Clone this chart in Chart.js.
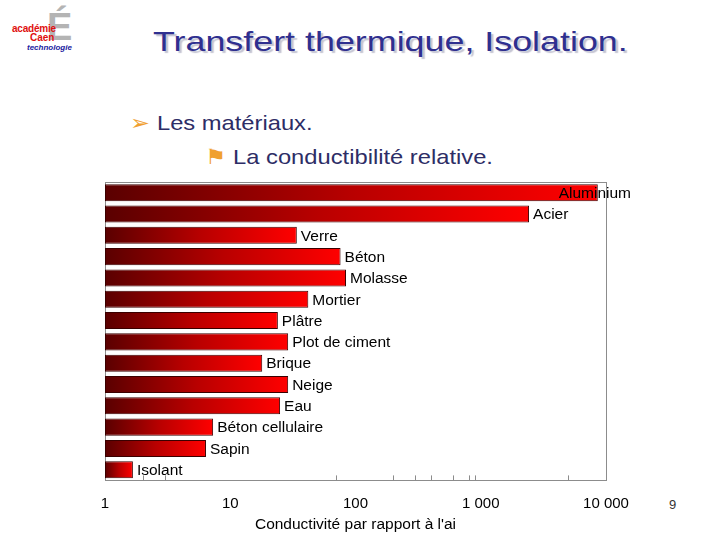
<!DOCTYPE html>
<html>
<head>
<meta charset="utf-8">
<script src="https://cdn.jsdelivr.net/npm/chart.js@4/dist/chart.umd.min.js"></script>
<style>
  html, body { margin:0; padding:0; background:#fff; }
  #slide { position:relative; width:720px; height:540px; overflow:hidden; font-family:"Liberation Sans", Arial, sans-serif; }
  #chart { position:absolute; left:0; top:0; }
  .txt { position:absolute; white-space:nowrap; transform-origin:0 0; }
  #title { left:153px; top:26px; font-size:28px; color:#2f2f8f; transform:scaleX(1.28); text-shadow:2px 2px 1px #c4c4d2; }
  #l1 { left:130px; top:111px; font-size:21px; color:#2d2d66; transform:scaleX(1.13); }
  #l2 { left:205px; top:145px; font-size:21px; color:#2d2d66; transform:scaleX(1.13); }
  .bul { color:#f0a030; }
  #page { left:669px; top:497px; font-size:13px; color:#333; }
  #logo1 { left:12px; top:23px; font-size:10px; font-weight:bold; color:#e01010; letter-spacing:-0.2px; }
  #logo2 { left:30px; top:32px; font-size:10px; font-weight:bold; color:#e01010; }
  #logo3 { left:27px; top:43px; font-size:8px; font-style:italic; font-weight:bold; color:#1a1aa0; }
  #logoE { left:47px; top:6px; font-size:38px; color:#b4b4b4; font-weight:bold; }
</style>
</head>
<body>
<div id="slide">
  <div class="txt" id="logoE">É</div>
  <div class="txt" id="logo1">académie</div>
  <div class="txt" id="logo2">Caen</div>
  <div class="txt" id="logo3">technologie</div>
  <div class="txt" id="title">Transfert thermique, Isolation.</div>
  <div class="txt" id="l1"><span class="bul">➢</span> Les matériaux.</div>
  <div class="txt" id="l2"><span class="bul">⚑</span> La conductibilité relative.</div>
  <div class="txt" id="page">9</div>
  <canvas id="chart" width="720" height="540"></canvas>
</div>
<script>
const materiaux = ['Aluminium','Acier','Verre','Béton','Molasse','Mortier','Plâtre','Plot de ciment','Brique','Neige','Eau','Béton cellulaire','Sapin','Isolant'];
const conductivite = [8600, 2430, 34, 76, 84, 42, 24, 29, 18, 29, 25, 7.3, 6.4, 1.67];
const graduations = [1, 10, 100, 1000, 10000];
const petitesGraduations = [2, 3, 70, 200, 300, 400, 600, 800, 900, 5000];
const titreAxe = "Conductivité par rapport à l'ai";

function milliers(v){
  return String(v).replace(/\B(?=(\d{3})+(?!\d))/g, ' ');
}

function degrade(c){
  const chart = c.chart;
  const sx = chart.scales.x;
  if(!chart.chartArea || !sx) return '#c00000';
  const x0 = sx.getPixelForValue(1);
  const x1 = sx.getPixelForValue(c.raw);
  const g = chart.ctx.createLinearGradient(x0, 0, Math.max(x1, x0+1), 0);
  g.addColorStop(0, '#5a0000');
  g.addColorStop(0.5, '#b80000');
  g.addColorStop(1, '#ff0000');
  return g;
}

const cadre = {
  id:'cadre',
  beforeDatasetsDraw(chart){
    const {ctx, chartArea:a} = chart;
    ctx.save();
    ctx.strokeStyle = '#8c8c8c';
    ctx.lineWidth = 1;
    ctx.strokeRect(Math.round(a.left)+0.5, Math.round(a.top)+0.5, Math.round(a.right-a.left), Math.round(a.bottom-a.top));
    const sx = chart.scales.x;
    ctx.beginPath();
    for(const v of petitesGraduations){
      const px = Math.round(sx.getPixelForValue(v))+0.5;
      ctx.moveTo(px, a.bottom);
      ctx.lineTo(px, a.bottom-5);
    }
    ctx.stroke();
    ctx.restore();
  }
};

const etiquettes = {
  id:'etiquettes',
  afterDatasetsDraw(chart){
    const {ctx} = chart;
    const meta = chart.getDatasetMeta(0);
    ctx.save();
    ctx.font = '15.5px "Liberation Sans", Arial, sans-serif';
    ctx.fillStyle = '#000';
    ctx.textBaseline = 'middle';
    meta.data.forEach((bar, i) => {
      const t = materiaux[i];
      const w = ctx.measureText(t).width;
      let x = bar.x + 4;
      if(x + w > 631) x = 631 - w;
      ctx.fillText(t, x, bar.y + 1);
    });
    ctx.restore();
  }
};

new Chart(document.getElementById('chart'), {
  type:'bar',
  data:{
    labels: materiaux,
    datasets:[{
      data: conductivite,
      backgroundColor: degrade,
      borderColor:'#3a0000',
      borderWidth:1,
      borderSkipped:false,
      barPercentage:0.8,
      categoryPercentage:1
    }]
  },
  options:{
    indexAxis:'y',
    responsive:false,
    animation:false,
    layout:{ padding:{ left:105, right:114, top:182, bottom:6 } },
    plugins:{ legend:{ display:false }, tooltip:{ enabled:false } },
    scales:{
      y:{ display:false },
      x:{
        type:'logarithmic',
        min:1, max:10000,
        afterBuildTicks(s){ s.ticks = graduations.map(v => ({ value:v })); },
        grid:{ display:false, drawTicks:false },
        border:{ display:false },
        ticks:{
          padding:14,
          color:'#000',
          maxRotation:0,
          autoSkip:false,
          font:{ family:'"Liberation Sans", Arial, sans-serif', size:15 },
          callback:(v) => milliers(v)
        },
        title:{
          display:true,
          text:titreAxe,
          color:'#000',
          padding:{ top:-11, bottom:0 },
          font:{ family:'"Liberation Sans", Arial, sans-serif', size:15.5 }
        }
      }
    }
  },
  plugins:[cadre, etiquettes]
});
</script>
</body>
</html>
